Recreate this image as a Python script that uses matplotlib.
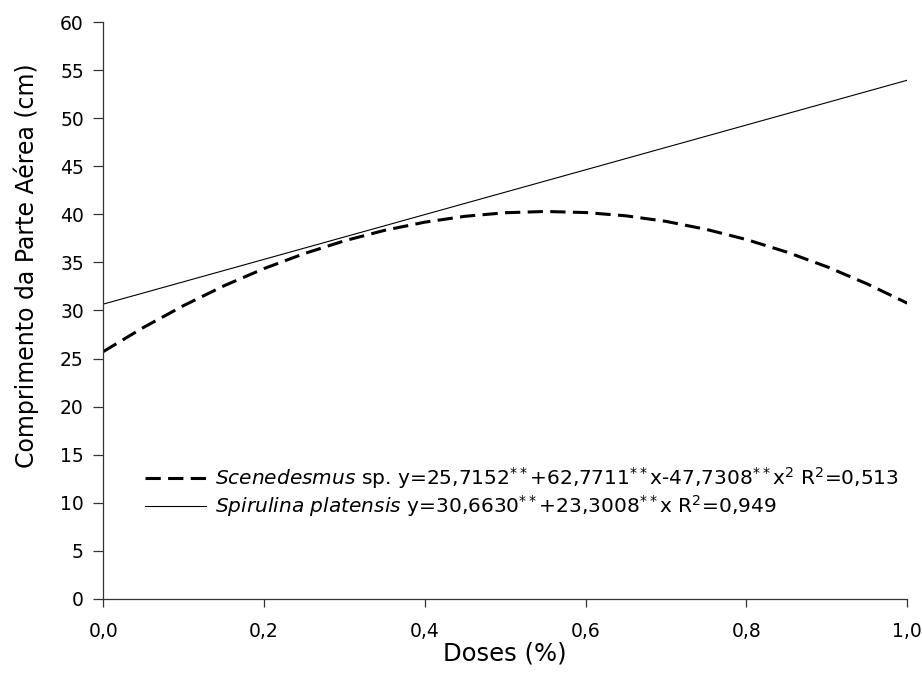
import matplotlib
matplotlib.use("Agg")
import matplotlib.pyplot as plt

plt.rcParams['font.family'] = ['DejaVu Sans']
plt.rcParams['mathtext.fontset'] = 'dejavusans'

# Doses (%) and curves
doses = [0.00, 0.05, 0.10, 0.15, 0.20, 0.25, 0.30, 0.35, 0.40, 0.45, 0.50,
         0.55, 0.60, 0.65, 0.70, 0.75, 0.80, 0.85, 0.90, 0.95, 1.00]
scenedesmus = [25.72, 28.23, 30.51, 32.56, 34.36, 35.92, 37.25, 38.34, 39.19, 39.80, 40.17,
               40.30, 40.19, 39.85, 39.27, 38.44, 37.38, 36.08, 34.55, 32.77, 30.76]
spirulina_x = [0.0, 1.0]
spirulina = [30.66, 53.96]

label_sc = (r"$\it{Scenedesmus}$ sp. y=25,7152$^{**}$+62,7711$^{**}$x-47,7308$^{**}$x$^{2}$"
            r" R$^{2}$=0,513")
label_sp = r"$\it{Spirulina\ platensis}$ y=30,6630$^{**}$+23,3008$^{**}$x R$^{2}$=0,949"

fig = plt.figure(figsize=(9.22, 6.93), dpi=100)
ax = fig.add_axes([0.112, 0.136, 0.872, 0.832])

ax.plot(doses, scenedesmus, color='black', lw=2.2, dashes=(5.0, 2.4), label=label_sc)
ax.plot(spirulina_x, spirulina, color='black', lw=0.8, label=label_sp)

ax.set_xlim(0, 1.0)
ax.set_ylim(0, 60)
ax.set_xticks([0, 0.2, 0.4, 0.6, 0.8, 1.0])
ax.set_xticklabels(['0,0', '0,2', '0,4', '0,6', '0,8', '1,0'])
ax.set_yticks(range(0, 61, 5))

for s in ['top', 'right']:
    ax.spines[s].set_visible(False)
for s in ['left', 'bottom']:
    ax.spines[s].set_linewidth(0.9)
    ax.spines[s].set_color('#333333')

ax.tick_params(axis='both', direction='out', labelsize=13.5, width=0.9, color='#333333')
ax.tick_params(axis='y', length=7, pad=7)
ax.tick_params(axis='x', length=6, pad=11)

ax.set_xlabel('Doses (%)', fontsize=17.5, labelpad=0)
ax.set_ylabel('Comprimento da Parte Aérea (cm)', fontsize=17)
ax.yaxis.set_label_coords(-0.08, 0.577)

ax.legend(loc='center left', bbox_to_anchor=(0.04, 0.185), frameon=False, borderpad=0,
          fontsize=14.5, handlelength=3.0, handletextpad=0.45, labelspacing=0.1)

fig.savefig('out.png', dpi=100)
